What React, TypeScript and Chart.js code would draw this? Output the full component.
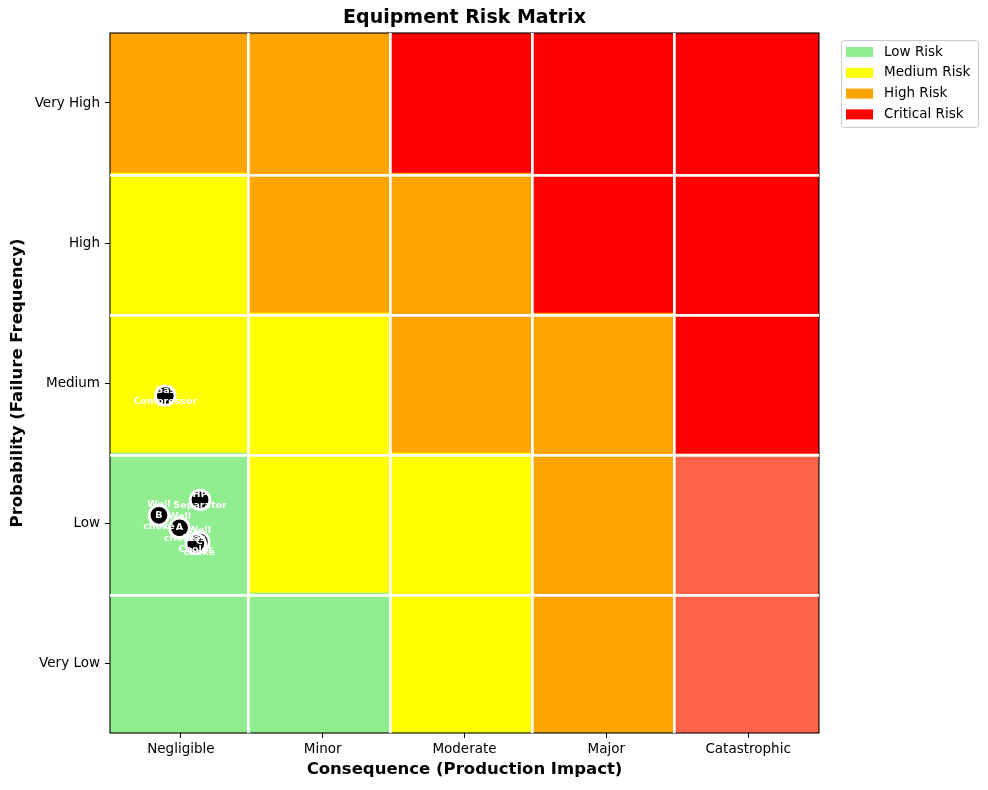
import { useEffect, useRef } from "react"
import { Chart, registerables } from "chart.js"

Chart.register(...registerables)

// axes
const consequenceLabels = ["Negligible", "Minor", "Moderate", "Major", "Catastrophic"]
const probabilityLabels = ["Very Low", "Low", "Medium", "High", "Very High"]

// risk level per cell, rows bottom (Very Low) -> top (Very High)
const riskGrid = [
  ["low", "low", "medium", "high", "severe"],
  ["low", "medium", "medium", "high", "severe"],
  ["medium", "medium", "high", "high", "critical"],
  ["medium", "high", "high", "critical", "critical"],
  ["high", "high", "critical", "critical", "critical"],
]

const riskLevels = ["low", "medium", "high", "critical", "severe"]
const riskNames = ["Low Risk", "Medium Risk", "High Risk", "Critical Risk", ""]
const riskColors = ["#90EE90", "#FFFF00", "#FFA500", "#FF0000", "#FF6347"]

// cell borders (slightly off the half-steps in the original)
const columnEdges = [-0.5, 0.479, 1.479, 2.479, 3.479, 4.5]
const rowEdges = [0.485, 1.485, 2.485, 3.485]

// equipment positions (jittered inside cells)
const equipmentNames = [
  "Gas\nCompressor",
  "HP\nSeparator",
  "Well\nB\nchoke",
  "Well\nA\nchoke",
  "Well\nC\nchoke",
  "Gas\nCooler",
]
const equipmentConsequence = [-0.11, 0.135, -0.155, -0.01, 0.13, 0.105]
const equipmentProbability = [1.91, 1.165, 1.055, 0.965, 0.865, 0.85]

const FONT = "DejaVu Sans"

const overlayPlugin = {
  id: "overlay",
  afterDatasetsDraw(chart: any) {
    const { ctx, chartArea } = chart
    const xs = chart.scales.x
    const ys = chart.scales.y
    ctx.save()
    // frame
    ctx.strokeStyle = "#000"
    ctx.lineWidth = 1.1
    ctx.strokeRect(
      chartArea.left,
      chartArea.top,
      chartArea.right - chartArea.left,
      chartArea.bottom - chartArea.top
    )
    // point labels
    ctx.fillStyle = "#fff"
    ctx.font = `bold 9.5px "${FONT}"`
    ctx.textAlign = "center"
    ctx.textBaseline = "middle"
    equipmentNames.forEach((name, i) => {
      const px = xs.getPixelForValue(equipmentConsequence[i])
      const py = ys.getPixelForValue(equipmentProbability[i])
      const lines = name.split("\n")
      const lh = 11
      lines.forEach((line, j) => {
        ctx.fillText(line, px, py + (j - (lines.length - 1) / 2) * lh)
      })
    })
    ctx.restore()
  },
  afterDraw(chart: any) {
    const { ctx, chartArea } = chart
    const cx = (chartArea.left + chartArea.right) / 2
    const cy = (chartArea.top + chartArea.bottom) / 2
    ctx.save()
    ctx.fillStyle = "#000"
    ctx.textAlign = "center"
    ctx.textBaseline = "middle"
    ctx.font = `bold 19px "${FONT}"`
    ctx.fillText("Equipment Risk Matrix", cx, 18)
    ctx.font = `bold 16.5px "${FONT}"`
    ctx.fillText("Consequence (Production Impact)", cx, 770)
    ctx.translate(18, cy)
    ctx.rotate(-Math.PI / 2)
    ctx.fillText("Probability (Failure Frequency)", 0, 0)
    ctx.restore()

    // legend
    ctx.save()
    const lx = 841
    const ly = 40
    const lw = 137
    const lh = 87
    ctx.fillStyle = "rgba(255,255,255,0.8)"
    ctx.strokeStyle = "#cccccc"
    ctx.lineWidth = 1
    ctx.beginPath()
    ctx.roundRect(lx + 0.5, ly + 0.5, lw, lh, 3)
    ctx.fill()
    ctx.stroke()
    ctx.font = `13.5px "${FONT}"`
    ctx.textAlign = "left"
    ctx.textBaseline = "middle"
    for (let i = 0; i < 4; i++) {
      const rowY = 52 + i * 20.8
      ctx.fillStyle = riskColors[i]
      ctx.fillRect(846, rowY - 5, 27, 10)
      ctx.fillStyle = "#000"
      ctx.fillText(riskNames[i], 884, rowY)
    }
    ctx.restore()
  },
}

const separatorAxis = (position: string, edges: number[]) => ({
  type: "linear",
  position,
  min: -0.5,
  max: 4.5,
  display: true,
  offset: false,
  afterBuildTicks: (scale: any) => {
    scale.ticks = edges.map((v) => ({ value: v }))
  },
  afterFit: (scale: any) => {
    if (scale.isHorizontal()) scale.height = 0
    else scale.width = 0
  },
  grid: {
    z: 1,
    offset: false,
    drawOnChartArea: true,
    drawTicks: false,
    color: "#ffffff",
    lineWidth: 2.7,
  },
  border: { display: false },
  ticks: { display: false },
})

export default function App() {
  const canvasRef = useRef<HTMLCanvasElement>(null)

  useEffect(() => {
    document.body.style.margin = "0"
    if (!canvasRef.current) return
    const ctx = canvasRef.current.getContext("2d")
    if (!ctx) return

    // horizontal floating bars: one bar per cell, spanning its column
    const cellDatasets = riskLevels.map((level, li) => {
      const data: any[] = []
      riskGrid.forEach((row, r) => {
        row.forEach((cell, c) => {
          if (cell === level) data.push({ x: [columnEdges[c], columnEdges[c + 1]], y: r })
        })
      })
      return {
        type: "bar" as const,
        label: riskNames[li],
        indexAxis: "y" as const,
        data,
        backgroundColor: riskColors[li],
        borderWidth: 0,
        grouped: false,
        barPercentage: 1,
        categoryPercentage: 1,
        order: 2,
      }
    })

    const pointDataset = {
      type: "scatter" as const,
      label: "Equipment",
      data: equipmentNames.map((_, i) => ({
        x: equipmentConsequence[i],
        y: equipmentProbability[i],
      })),
      backgroundColor: "#000000",
      borderColor: "#ffffff",
      borderWidth: 2.8,
      pointRadius: 9.8,
      order: 0,
    }

    const chart = new Chart(ctx, {
      type: "bar",
      data: { datasets: [pointDataset as any, ...cellDatasets] },
      options: {
        responsive: false,
        animation: false,
        layout: { padding: { left: 0, top: 33, right: 169, bottom: 0 } },
        font: { family: FONT },
        plugins: {
          legend: { display: false },
          title: { display: false },
          tooltip: { enabled: false },
        },
        scales: {
          x: {
            type: "linear",
            min: -0.5,
            max: 4.5,
            offset: false,
            afterBuildTicks: (scale: any) => {
              scale.ticks = consequenceLabels.map((_, i) => ({ value: i }))
            },
            afterFit: (scale: any) => {
              scale.height = 57
            },
            grid: {
              offset: false,
              drawOnChartArea: false,
              drawTicks: true,
              tickLength: 5,
              tickColor: "#000",
              tickWidth: 1,
            },
            border: { display: false },
            ticks: {
              autoSkip: false,
              maxRotation: 0,
              padding: 3,
              color: "#000",
              font: { family: FONT, size: 13.5 },
              callback: (v: any) => consequenceLabels[v] ?? "",
            },
          },
          y: {
            type: "linear",
            min: -0.5,
            max: 4.5,
            offset: false,
            beginAtZero: false,
            afterBuildTicks: (scale: any) => {
              scale.ticks = probabilityLabels.map((_, i) => ({ value: i }))
            },
            afterFit: (scale: any) => {
              scale.width = 110
            },
            grid: {
              offset: false,
              drawOnChartArea: false,
              drawTicks: true,
              tickLength: 5,
              tickColor: "#000",
              tickWidth: 1,
            },
            border: { display: false },
            ticks: {
              autoSkip: false,
              padding: 5,
              color: "#000",
              font: { family: FONT, size: 13.5 },
              callback: (v: any) => probabilityLabels[v] ?? "",
            },
          },
          xEdges: separatorAxis("top", columnEdges.slice(1, -1)) as any,
          yEdges: separatorAxis("right", rowEdges) as any,
        },
      },
      plugins: [overlayPlugin],
    })

    return () => {
      chart.destroy()
    }
  }, [])

  return (
    <div style={{ width: 988, height: 790 }}>
      <canvas ref={canvasRef} width={988} height={790} />
    </div>
  )
}
